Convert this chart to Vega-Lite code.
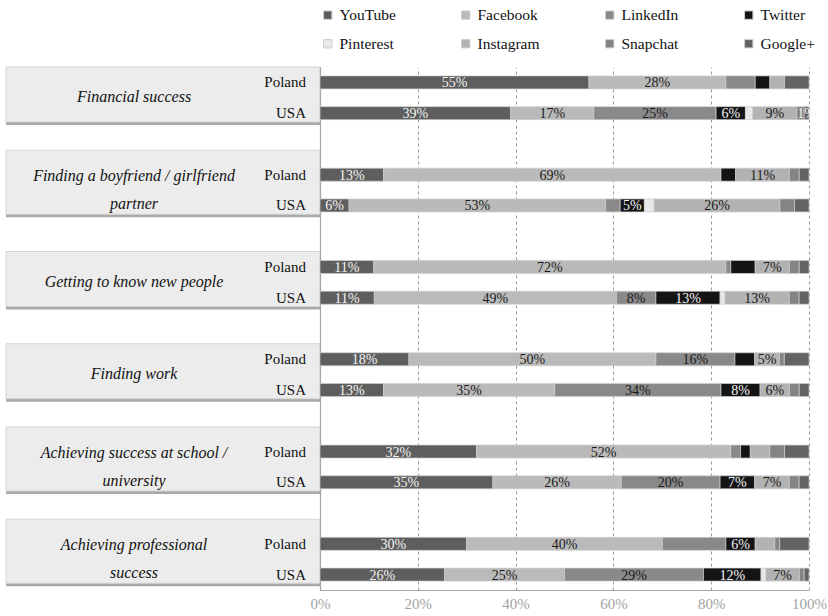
{
  "$schema": "https://vega.github.io/schema/vega-lite/v6.json",
  "background": "white",
  "padding": {"left": 5, "top": 7, "right": 5, "bottom": 5},
  "config": {
    "view": {"stroke": null},
    "font": "Liberation Serif",
    "text": {"font": "Liberation Serif"}
  },
  "datasets": {
    "topics": [
      {"topic": "Financial success"},
      {"topic": "Finding a boyfriend / girlfriend\npartner"},
      {"topic": "Getting to know new people"},
      {"topic": "Finding work"},
      {"topic": "Achieving success at school /\nuniversity"},
      {"topic": "Achieving professional\nsuccess"}
    ],
    "shares": [
      {"topic": "Financial success", "country": "Poland", "platform": "YouTube", "value": 55, "shown": true},
      {"topic": "Financial success", "country": "Poland", "platform": "Facebook", "value": 28, "shown": true},
      {"topic": "Financial success", "country": "Poland", "platform": "LinkedIn", "value": 6, "shown": false},
      {"topic": "Financial success", "country": "Poland", "platform": "Twitter", "value": 3, "shown": false},
      {"topic": "Financial success", "country": "Poland", "platform": "Instagram", "value": 3, "shown": false},
      {"topic": "Financial success", "country": "Poland", "platform": "Google+", "value": 5, "shown": false},
      {"topic": "Financial success", "country": "USA", "platform": "YouTube", "value": 39, "shown": true},
      {"topic": "Financial success", "country": "USA", "platform": "Facebook", "value": 17, "shown": true},
      {"topic": "Financial success", "country": "USA", "platform": "LinkedIn", "value": 25, "shown": true},
      {"topic": "Financial success", "country": "USA", "platform": "Twitter", "value": 6, "shown": true},
      {"topic": "Financial success", "country": "USA", "platform": "Pinterest", "value": 1.5, "shown": false},
      {"topic": "Financial success", "country": "USA", "platform": "Instagram", "value": 9, "shown": true},
      {"topic": "Financial success", "country": "USA", "platform": "Snapchat", "value": 1.5, "shown": false},
      {"topic": "Financial success", "country": "USA", "platform": "Google+", "value": 1, "shown": true},

      {"topic": "Finding a boyfriend / girlfriend\npartner", "country": "Poland", "platform": "YouTube", "value": 13, "shown": true},
      {"topic": "Finding a boyfriend / girlfriend\npartner", "country": "Poland", "platform": "Facebook", "value": 69, "shown": true},
      {"topic": "Finding a boyfriend / girlfriend\npartner", "country": "Poland", "platform": "Twitter", "value": 3, "shown": false},
      {"topic": "Finding a boyfriend / girlfriend\npartner", "country": "Poland", "platform": "Instagram", "value": 11, "shown": true},
      {"topic": "Finding a boyfriend / girlfriend\npartner", "country": "Poland", "platform": "Snapchat", "value": 2, "shown": false},
      {"topic": "Finding a boyfriend / girlfriend\npartner", "country": "Poland", "platform": "Google+", "value": 2, "shown": false},
      {"topic": "Finding a boyfriend / girlfriend\npartner", "country": "USA", "platform": "YouTube", "value": 6, "shown": true},
      {"topic": "Finding a boyfriend / girlfriend\npartner", "country": "USA", "platform": "Facebook", "value": 53, "shown": true},
      {"topic": "Finding a boyfriend / girlfriend\npartner", "country": "USA", "platform": "LinkedIn", "value": 3, "shown": false},
      {"topic": "Finding a boyfriend / girlfriend\npartner", "country": "USA", "platform": "Twitter", "value": 5, "shown": true},
      {"topic": "Finding a boyfriend / girlfriend\npartner", "country": "USA", "platform": "Pinterest", "value": 2, "shown": false},
      {"topic": "Finding a boyfriend / girlfriend\npartner", "country": "USA", "platform": "Instagram", "value": 26, "shown": true},
      {"topic": "Finding a boyfriend / girlfriend\npartner", "country": "USA", "platform": "Snapchat", "value": 3, "shown": false},
      {"topic": "Finding a boyfriend / girlfriend\npartner", "country": "USA", "platform": "Google+", "value": 3, "shown": false},

      {"topic": "Getting to know new people", "country": "Poland", "platform": "YouTube", "value": 11, "shown": true},
      {"topic": "Getting to know new people", "country": "Poland", "platform": "Facebook", "value": 72, "shown": true},
      {"topic": "Getting to know new people", "country": "Poland", "platform": "LinkedIn", "value": 1, "shown": false},
      {"topic": "Getting to know new people", "country": "Poland", "platform": "Twitter", "value": 5, "shown": false},
      {"topic": "Getting to know new people", "country": "Poland", "platform": "Instagram", "value": 7, "shown": true},
      {"topic": "Getting to know new people", "country": "Poland", "platform": "Snapchat", "value": 2, "shown": false},
      {"topic": "Getting to know new people", "country": "Poland", "platform": "Google+", "value": 2, "shown": false},
      {"topic": "Getting to know new people", "country": "USA", "platform": "YouTube", "value": 11, "shown": true},
      {"topic": "Getting to know new people", "country": "USA", "platform": "Facebook", "value": 49, "shown": true},
      {"topic": "Getting to know new people", "country": "USA", "platform": "LinkedIn", "value": 8, "shown": true},
      {"topic": "Getting to know new people", "country": "USA", "platform": "Twitter", "value": 13, "shown": true},
      {"topic": "Getting to know new people", "country": "USA", "platform": "Pinterest", "value": 1, "shown": false},
      {"topic": "Getting to know new people", "country": "USA", "platform": "Instagram", "value": 13, "shown": true},
      {"topic": "Getting to know new people", "country": "USA", "platform": "Snapchat", "value": 2, "shown": false},
      {"topic": "Getting to know new people", "country": "USA", "platform": "Google+", "value": 2, "shown": false},

      {"topic": "Finding work", "country": "Poland", "platform": "YouTube", "value": 18, "shown": true},
      {"topic": "Finding work", "country": "Poland", "platform": "Facebook", "value": 50, "shown": true},
      {"topic": "Finding work", "country": "Poland", "platform": "LinkedIn", "value": 16, "shown": true},
      {"topic": "Finding work", "country": "Poland", "platform": "Twitter", "value": 4, "shown": false},
      {"topic": "Finding work", "country": "Poland", "platform": "Instagram", "value": 5, "shown": true},
      {"topic": "Finding work", "country": "Poland", "platform": "Snapchat", "value": 1, "shown": false},
      {"topic": "Finding work", "country": "Poland", "platform": "Google+", "value": 5, "shown": false},
      {"topic": "Finding work", "country": "USA", "platform": "YouTube", "value": 13, "shown": true},
      {"topic": "Finding work", "country": "USA", "platform": "Facebook", "value": 35, "shown": true},
      {"topic": "Finding work", "country": "USA", "platform": "LinkedIn", "value": 34, "shown": true},
      {"topic": "Finding work", "country": "USA", "platform": "Twitter", "value": 8, "shown": true},
      {"topic": "Finding work", "country": "USA", "platform": "Instagram", "value": 6, "shown": true},
      {"topic": "Finding work", "country": "USA", "platform": "Snapchat", "value": 2, "shown": false},
      {"topic": "Finding work", "country": "USA", "platform": "Google+", "value": 2, "shown": false},

      {"topic": "Achieving success at school /\nuniversity", "country": "Poland", "platform": "YouTube", "value": 32, "shown": true},
      {"topic": "Achieving success at school /\nuniversity", "country": "Poland", "platform": "Facebook", "value": 52, "shown": true},
      {"topic": "Achieving success at school /\nuniversity", "country": "Poland", "platform": "LinkedIn", "value": 2, "shown": false},
      {"topic": "Achieving success at school /\nuniversity", "country": "Poland", "platform": "Twitter", "value": 2, "shown": false},
      {"topic": "Achieving success at school /\nuniversity", "country": "Poland", "platform": "Instagram", "value": 4, "shown": false},
      {"topic": "Achieving success at school /\nuniversity", "country": "Poland", "platform": "Snapchat", "value": 3, "shown": false},
      {"topic": "Achieving success at school /\nuniversity", "country": "Poland", "platform": "Google+", "value": 5, "shown": false},
      {"topic": "Achieving success at school /\nuniversity", "country": "USA", "platform": "YouTube", "value": 35, "shown": true},
      {"topic": "Achieving success at school /\nuniversity", "country": "USA", "platform": "Facebook", "value": 26, "shown": true},
      {"topic": "Achieving success at school /\nuniversity", "country": "USA", "platform": "LinkedIn", "value": 20, "shown": true},
      {"topic": "Achieving success at school /\nuniversity", "country": "USA", "platform": "Twitter", "value": 7, "shown": true},
      {"topic": "Achieving success at school /\nuniversity", "country": "USA", "platform": "Instagram", "value": 7, "shown": true},
      {"topic": "Achieving success at school /\nuniversity", "country": "USA", "platform": "Snapchat", "value": 2, "shown": false},
      {"topic": "Achieving success at school /\nuniversity", "country": "USA", "platform": "Google+", "value": 2, "shown": false},

      {"topic": "Achieving professional\nsuccess", "country": "Poland", "platform": "YouTube", "value": 30, "shown": true},
      {"topic": "Achieving professional\nsuccess", "country": "Poland", "platform": "Facebook", "value": 40, "shown": true},
      {"topic": "Achieving professional\nsuccess", "country": "Poland", "platform": "LinkedIn", "value": 13, "shown": false},
      {"topic": "Achieving professional\nsuccess", "country": "Poland", "platform": "Twitter", "value": 6, "shown": true},
      {"topic": "Achieving professional\nsuccess", "country": "Poland", "platform": "Instagram", "value": 4, "shown": false},
      {"topic": "Achieving professional\nsuccess", "country": "Poland", "platform": "Snapchat", "value": 1, "shown": false},
      {"topic": "Achieving professional\nsuccess", "country": "Poland", "platform": "Google+", "value": 6, "shown": false},
      {"topic": "Achieving professional\nsuccess", "country": "USA", "platform": "YouTube", "value": 26, "shown": true},
      {"topic": "Achieving professional\nsuccess", "country": "USA", "platform": "Facebook", "value": 25, "shown": true},
      {"topic": "Achieving professional\nsuccess", "country": "USA", "platform": "LinkedIn", "value": 29, "shown": true},
      {"topic": "Achieving professional\nsuccess", "country": "USA", "platform": "Twitter", "value": 12, "shown": true},
      {"topic": "Achieving professional\nsuccess", "country": "USA", "platform": "Pinterest", "value": 1, "shown": false},
      {"topic": "Achieving professional\nsuccess", "country": "USA", "platform": "Instagram", "value": 7, "shown": true},
      {"topic": "Achieving professional\nsuccess", "country": "USA", "platform": "Snapchat", "value": 1, "shown": false},
      {"topic": "Achieving professional\nsuccess", "country": "USA", "platform": "Google+", "value": 1, "shown": false}
    ]
  },
  "spacing": 0,
  "bounds": "flush",
  "resolve": {"legend": {"color": "independent"}},
  "hconcat": [
    {
      "width": 314,
      "height": 523,
      "data": {"name": "topics"},
      "layer": [
        {
          "transform": [{"filter": "indexof(datum.topic, '\\n') < 0"}],
          "mark": {"type": "rect", "fill": "#a9a9a9", "yOffset": 3, "xOffset": 1},
          "encoding": {
            "y": {"field": "topic", "type": "nominal", "axis": null,
              "scale": {"type": "band", "domain": ["Financial success", "Finding a boyfriend / girlfriend\npartner", "Getting to know new people", "Finding work", "Achieving success at school /\nuniversity", "Achieving professional\nsuccess"],
                "paddingInner": 0.404, "paddingOuter": 0.0366, "align": 0, "round": false}}
          }
        },
        {
          "transform": [{"filter": "indexof(datum.topic, '\\n') < 0"}],
          "mark": {"type": "rect", "fill": "#ececec", "stroke": "#d4d4d4", "strokeWidth": 1},
          "encoding": {
            "y": {"field": "topic", "type": "nominal", "axis": null,
              "scale": {"type": "band", "domain": ["Financial success", "Finding a boyfriend / girlfriend\npartner", "Getting to know new people", "Finding work", "Achieving success at school /\nuniversity", "Achieving professional\nsuccess"],
                "paddingInner": 0.404, "paddingOuter": 0.0366, "align": 0, "round": false}}
          }
        },
        {
          "transform": [{"filter": "indexof(datum.topic, '\\n') >= 0"}],
          "mark": {"type": "rect", "fill": "#a9a9a9", "height": 64, "yOffset": -1.5, "xOffset": 1},
          "encoding": {
            "y": {"field": "topic", "type": "nominal", "axis": null,
              "scale": {"type": "band", "domain": ["Financial success", "Finding a boyfriend / girlfriend\npartner", "Getting to know new people", "Finding work", "Achieving success at school /\nuniversity", "Achieving professional\nsuccess"],
                "paddingInner": 0.404, "paddingOuter": 0.0366, "align": 0, "round": false}}
          }
        },
        {
          "transform": [{"filter": "indexof(datum.topic, '\\n') >= 0"}],
          "mark": {"type": "rect", "fill": "#ececec", "stroke": "#d4d4d4", "strokeWidth": 1, "height": 64, "yOffset": -4.5},
          "encoding": {
            "y": {"field": "topic", "type": "nominal", "axis": null,
              "scale": {"type": "band", "domain": ["Financial success", "Finding a boyfriend / girlfriend\npartner", "Getting to know new people", "Finding work", "Achieving success at school /\nuniversity", "Achieving professional\nsuccess"],
                "paddingInner": 0.404, "paddingOuter": 0.0366, "align": 0, "round": false}}
          }
        },
        {
          "transform": [{"filter": "indexof(datum.topic, '\\n') < 0"}],
          "mark": {"type": "text", "fontStyle": "italic", "fontSize": 16, "dx": -29, "dy": 3, "baseline": "middle", "color": "#111111"},
          "encoding": {
            "y": {"field": "topic", "type": "nominal", "axis": null,
              "scale": {"type": "band", "domain": ["Financial success", "Finding a boyfriend / girlfriend\npartner", "Getting to know new people", "Finding work", "Achieving success at school /\nuniversity", "Achieving professional\nsuccess"],
                "paddingInner": 0.404, "paddingOuter": 0.0366, "align": 0, "round": false}},
            "text": {"field": "topic", "type": "nominal"}
          }
        },
        {
          "transform": [{"filter": "indexof(datum.topic, '\\n') >= 0"}],
          "mark": {"type": "text", "fontStyle": "italic", "fontSize": 16, "lineBreak": "\n", "lineHeight": 28, "dx": -29, "dy": -11, "baseline": "middle", "color": "#111111"},
          "encoding": {
            "y": {"field": "topic", "type": "nominal", "axis": null,
              "scale": {"type": "band", "domain": ["Financial success", "Finding a boyfriend / girlfriend\npartner", "Getting to know new people", "Finding work", "Achieving success at school /\nuniversity", "Achieving professional\nsuccess"],
                "paddingInner": 0.404, "paddingOuter": 0.0366, "align": 0, "round": false}},
            "text": {"field": "topic", "type": "nominal"}
          }
        },
        {
          "data": {"name": "shares"},
          "transform": [
            {"aggregate": [{"op": "count", "as": "n"}], "groupby": ["topic", "country"]},
            {"calculate": "datum.topic + '|' + datum.country", "as": "row"}
          ],
          "mark": {"type": "text", "align": "right", "fontSize": 15, "dx": 143, "baseline": "middle", "color": "#111111"},
          "encoding": {
            "y": {"field": "row", "type": "nominal", "axis": null,
              "scale": {"type": "band", "domain": [
                "Financial success|Poland", "Financial success|USA", "gap1",
                "Finding a boyfriend / girlfriend\npartner|Poland", "Finding a boyfriend / girlfriend\npartner|USA", "gap2",
                "Getting to know new people|Poland", "Getting to know new people|USA", "gap3",
                "Finding work|Poland", "Finding work|USA", "gap4",
                "Achieving success at school /\nuniversity|Poland", "Achieving success at school /\nuniversity|USA", "gap5",
                "Achieving professional\nsuccess|Poland", "Achieving professional\nsuccess|USA"],
                "paddingInner": 0.577, "paddingOuter": 0.2885, "round": false}},
            "text": {"field": "country", "type": "nominal"}
          }
        }
      ],
      "resolve": {"scale": {"y": "independent"}}
    },
    {
      "width": 489,
      "height": 523,
      "data": {"name": "shares"},
      "transform": [
        {"calculate": "datum.topic + '|' + datum.country", "as": "row"},
        {"calculate": "indexof(['YouTube','Facebook','LinkedIn','Twitter','Pinterest','Instagram','Snapchat','Google+'], datum.platform)", "as": "rank"},
        {"stack": "value", "groupby": ["row"], "sort": [{"field": "rank", "order": "ascending"}], "offset": "normalize", "as": ["x0", "x1"]},
        {"calculate": "(datum.x0 + datum.x1) / 2", "as": "xm"},
        {"calculate": "datum.value + '%'", "as": "label"}
      ],
      "encoding": {
        "y": {"field": "row", "type": "nominal",
          "scale": {"type": "band", "domain": [
            "Financial success|Poland", "Financial success|USA", "gap1",
            "Finding a boyfriend / girlfriend\npartner|Poland", "Finding a boyfriend / girlfriend\npartner|USA", "gap2",
            "Getting to know new people|Poland", "Getting to know new people|USA", "gap3",
            "Finding work|Poland", "Finding work|USA", "gap4",
            "Achieving success at school /\nuniversity|Poland", "Achieving success at school /\nuniversity|USA", "gap5",
            "Achieving professional\nsuccess|Poland", "Achieving professional\nsuccess|USA"],
            "paddingInner": 0.577, "paddingOuter": 0.2885, "round": false},
          "axis": {"labels": false, "ticks": false, "title": null, "domain": true, "domainColor": "#a6a6a6", "domainWidth": 1.2, "grid": false, "minExtent": 0, "maxExtent": 0, "labelPadding": 0, "tickSize": 0}}
      },
      "layer": [
        {
          "mark": {"type": "bar", "stroke": "#cfcfcf", "strokeWidth": 0.7},
          "encoding": {
            "x": {"field": "x0", "type": "quantitative",
              "scale": {"domain": [0, 1], "nice": false, "zero": true},
              "axis": {"values": [0, 0.2, 0.4, 0.6, 0.8, 1], "format": "%", "title": null,
                "grid": true, "gridDash": [3, 3], "gridColor": "#9a9a9a", "gridWidth": 1,
                "ticks": false, "domainColor": "#a6a6a6", "domainWidth": 1.2,
                "labelColor": "#a3a3a3", "labelFontSize": 15, "labelFont": "Liberation Serif", "labelPadding": 6, "labelFlush": false}},
            "x2": {"field": "x1"},
            "color": {"field": "platform", "type": "nominal",
              "scale": {"domain": ["YouTube", "Facebook", "LinkedIn", "Twitter", "Pinterest", "Instagram", "Snapchat", "Google+"],
                "range": ["#5e5e5e", "#bababa", "#898989", "#141414", "#e8e8e8", "#b2b2b2", "#848484", "#636363"]},
              "legend": {"title": null, "orient": "top", "columns": 4, "columnPadding": 62, "rowPadding": 12,
                "symbolType": "square", "symbolSize": 70, "symbolStrokeWidth": 1, "symbolStrokeColor": "#cfcfcf",
                "labelFontSize": 15.5, "labelFont": "Liberation Serif", "labelColor": "#111111", "labelOffset": 4,
                "offset": 14, "padding": 0}}
          }
        },
        {
          "transform": [{"filter": "datum.shown"}],
          "mark": {"type": "text", "fontSize": 14, "baseline": "middle", "dy": 1},
          "encoding": {
            "x": {"field": "xm", "type": "quantitative"},
            "text": {"field": "label", "type": "nominal"},
            "color": {"condition": {"test": "indexof(['YouTube','Twitter','Google+'], datum.platform) >= 0", "value": "#f4f4f4"}, "value": "#1a1a1a"}
          }
        }
      ]
    }
  ]
}
